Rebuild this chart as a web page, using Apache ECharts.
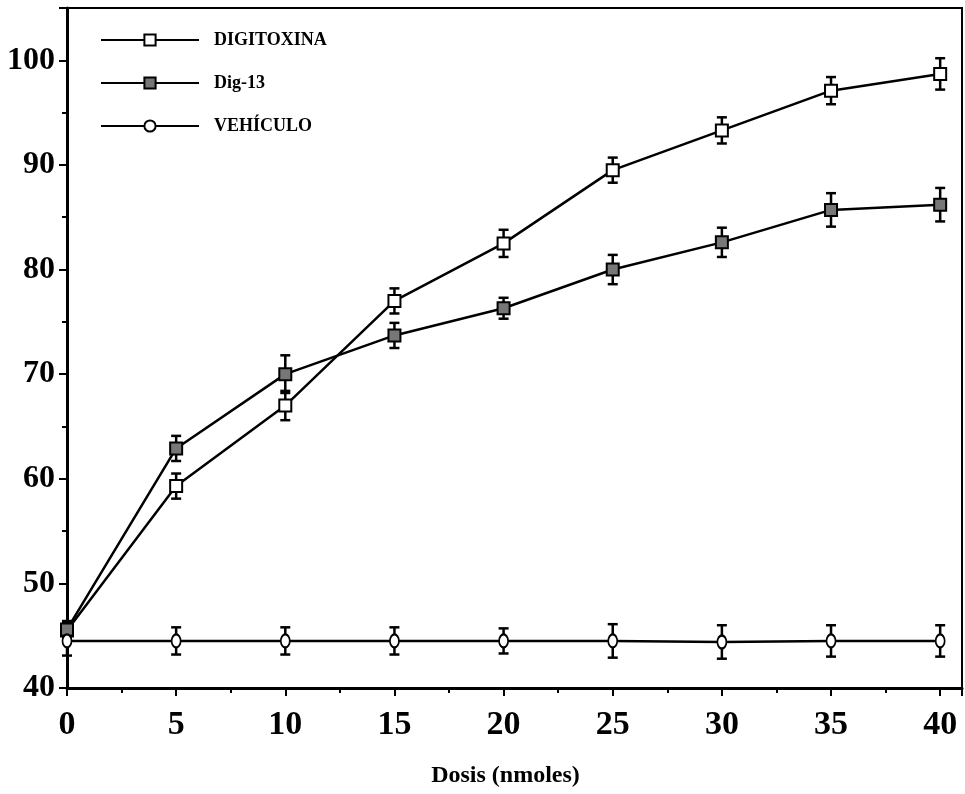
<!DOCTYPE html>
<html>
<head>
<meta charset="utf-8">
<script src="https://cdn.jsdelivr.net/npm/echarts@6/dist/echarts.min.js"></script>
<style>html,body{margin:0;padding:0;background:#fff}#c{width:965px;height:794px}</style>
</head>
<body>
<div id="c"></div>
<script>
const doses = [0, 5, 10, 15, 20, 25, 30, 35, 40];
const digitoxina = [45.5, 59.3, 67.0, 77.0, 82.5, 89.5, 93.3, 97.1, 98.7];
const digitoxinaErr = [0.8, 1.2, 1.4, 1.2, 1.3, 1.2, 1.25, 1.3, 1.5];
const dig13 = [45.6, 62.9, 70.0, 73.7, 76.3, 80.0, 82.6, 85.7, 86.2];
const dig13Err = [0.8, 1.2, 1.8, 1.2, 1.0, 1.4, 1.4, 1.6, 1.6];
const vehiculo = [44.5, 44.5, 44.5, 44.5, 44.5, 44.5, 44.4, 44.5, 44.5];
const vehiculoErr = [1.4, 1.3, 1.3, 1.3, 1.2, 1.6, 1.6, 1.5, 1.5];
const names = ['DIGITOXINA', 'Dig-13', 'VEHÍCULO'];
const xTicks = [0, 5, 10, 15, 20, 25, 30, 35, 40];
const yTicks = [40, 50, 60, 70, 80, 90, 100];

const FONT = '"Liberation Serif", "DejaVu Serif", serif';
function pairs(ys) { return doses.map((d, i) => [d, ys[i]]); }
function errData(ys, es) { return doses.map((d, i) => [d, ys[i] - es[i], ys[i] + es[i]]); }
function errSeries(ys, es) {
  return {
    type: 'custom', z: 1, silent: true,
    data: errData(ys, es),
    renderItem: function (params, api) {
      const lo = api.coord([api.value(0), api.value(1)]);
      const hi = api.coord([api.value(0), api.value(2)]);
      const w = 5;
      const st = { stroke: '#000', lineWidth: 2.5 };
      return { type: 'group', children: [
        { type: 'line', shape: { x1: lo[0], y1: lo[1], x2: hi[0], y2: hi[1] }, style: st },
        { type: 'line', shape: { x1: lo[0] - w, y1: lo[1], x2: lo[0] + w, y2: lo[1] }, style: st },
        { type: 'line', shape: { x1: hi[0] - w, y1: hi[1], x2: hi[0] + w, y2: hi[1] }, style: st }
      ]};
    }
  };
}
function lineSeries(name, ys, symbol, size, fill) {
  return {
    name: name, type: 'line', z: 3, data: pairs(ys),
    symbol: symbol, symbolSize: size, showAllSymbol: true,
    lineStyle: { color: '#000', width: 2.5 },
    itemStyle: { color: fill, borderColor: '#000', borderWidth: 2 },
    emphasis: { disabled: true }
  };
}
const chart = echarts.init(document.getElementById('c'), null, { renderer: 'canvas' });
chart.setOption({
  animation: false,
  backgroundColor: '#fff',
  grid: { left: 67, top: 8, right: 3, bottom: 106, show: true, borderColor: '#000', borderWidth: 2, backgroundColor: 'transparent' },
  legend: {
    left: 95, top: 26, orient: 'vertical', itemWidth: 98, itemHeight: 14, itemGap: 25,
    data: names,
    textStyle: { fontFamily: FONT, fontWeight: 'bold', fontSize: 18, color: '#000', padding: [0, 0, 0, 10] }
  },
  xAxis: {
    type: 'value', min: 0, max: 41, interval: 5,
    name: 'Dosis (nmoles)', nameLocation: 'middle', nameGap: 76,
    nameTextStyle: { fontFamily: FONT, fontWeight: 'bold', fontSize: 24, color: '#000', padding: [0, 18, 0, 0] },
    axisLine: { show: true, lineStyle: { color: '#000', width: 3 } },
    axisTick: { show: true, length: 8, lineStyle: { color: '#000', width: 2 } },
    minorTick: { show: true, splitNumber: 2, length: 5, lineStyle: { color: '#000', width: 2 } },
    splitLine: { show: false },
    axisLabel: { margin: 20, fontFamily: FONT, fontWeight: 'bold', fontSize: 34, color: '#000',
      formatter: v => xTicks.indexOf(v) >= 0 ? String(v) : '' }
  },
  yAxis: {
    type: 'value', min: 40, max: 105, interval: 10,
    axisLine: { show: true, lineStyle: { color: '#000', width: 3 } },
    axisTick: { show: true, length: 8, lineStyle: { color: '#000', width: 2 } },
    minorTick: { show: true, splitNumber: 2, length: 5, lineStyle: { color: '#000', width: 2 } },
    splitLine: { show: false },
    axisLabel: { margin: 12, fontFamily: FONT, fontWeight: 'bold', fontSize: 32, color: '#000',
      formatter: v => yTicks.indexOf(v) >= 0 ? String(v) : '' }
  },
  series: [
    errSeries(digitoxina, digitoxinaErr),
    errSeries(dig13, dig13Err),
    errSeries(vehiculo, vehiculoErr),
    lineSeries(names[0], digitoxina, 'rect', 12, '#fff'),
    lineSeries(names[1], dig13, 'rect', 12, '#777'),
    lineSeries(names[2], vehiculo, 'circle', [9, 13], '#fff')
  ]
});
</script>
</body>
</html>
